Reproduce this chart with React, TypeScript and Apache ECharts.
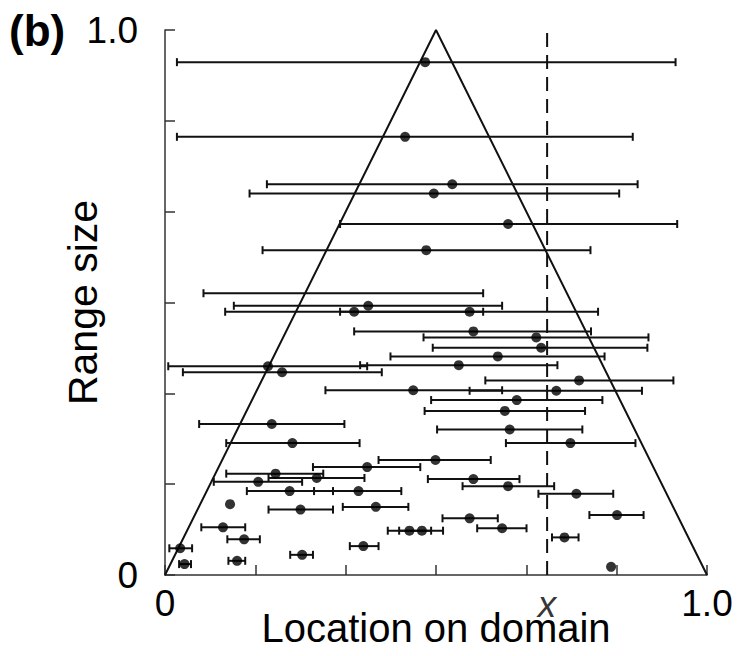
import React, { useEffect, useRef } from "react";
import * as echarts from "echarts";

// Error bars: low end, high end, range size (y)
const barLow = [0.022, 0.022, 0.188, 0.156, 0.323, 0.180, 0.071, 0.127, 0.111, 0.323, 0.349, 0.477, 0.494, 0.416, 0.006, 0.360, 0.033, 0.591, 0.296, 0.562, 0.491, 0.479, 0.063, 0.502, 0.113, 0.629, 0.394, 0.273, 0.113, 0.191, 0.485, 0.090, 0.549, 0.151, 0.275, 0.689, 0.328, 0.191, 0.783, 0.512, 0.067, 0.576, 0.411, 0.432, 0.714, 0.115, 0.341, 0.008, 0.231, 0.117, 0.026];
const barHigh = [0.942, 0.863, 0.872, 0.838, 0.945, 0.785, 0.587, 0.622, 0.587, 0.799, 0.786, 0.892, 0.890, 0.811, 0.373, 0.724, 0.400, 0.938, 0.622, 0.880, 0.807, 0.775, 0.331, 0.770, 0.359, 0.868, 0.601, 0.471, 0.292, 0.368, 0.654, 0.253, 0.718, 0.310, 0.436, 0.827, 0.449, 0.310, 0.883, 0.614, 0.148, 0.667, 0.491, 0.513, 0.763, 0.175, 0.394, 0.050, 0.273, 0.148, 0.048];
const barY = [0.941, 0.804, 0.717, 0.700, 0.644, 0.596, 0.517, 0.494, 0.483, 0.483, 0.447, 0.436, 0.417, 0.401, 0.383, 0.385, 0.372, 0.357, 0.339, 0.338, 0.321, 0.301, 0.277, 0.267, 0.242, 0.242, 0.211, 0.198, 0.186, 0.178, 0.176, 0.171, 0.163, 0.154, 0.154, 0.149, 0.125, 0.120, 0.110, 0.104, 0.0875, 0.0857, 0.0813, 0.0813, 0.069, 0.0655, 0.053, 0.049, 0.037, 0.026, 0.020];

// Points: location, range size
const dotX = [0.480, 0.443, 0.530, 0.496, 0.633, 0.482, 0.375, 0.349, 0.562, 0.569, 0.685, 0.694, 0.614, 0.190, 0.542, 0.216, 0.764, 0.458, 0.722, 0.649, 0.627, 0.197, 0.636, 0.235, 0.748, 0.499, 0.373, 0.204, 0.280, 0.569, 0.172, 0.633, 0.230, 0.357, 0.759, 0.120, 0.389, 0.250, 0.834, 0.562, 0.107, 0.622, 0.451, 0.474, 0.737, 0.146, 0.366, 0.028, 0.253, 0.133, 0.036, 0.823];
const dotY = [0.941, 0.804, 0.717, 0.700, 0.644, 0.596, 0.494, 0.483, 0.483, 0.447, 0.436, 0.417, 0.401, 0.383, 0.385, 0.372, 0.357, 0.339, 0.338, 0.321, 0.301, 0.277, 0.267, 0.242, 0.242, 0.211, 0.198, 0.186, 0.178, 0.176, 0.171, 0.163, 0.154, 0.154, 0.149, 0.130, 0.125, 0.120, 0.110, 0.104, 0.0875, 0.0857, 0.0813, 0.0813, 0.069, 0.0655, 0.053, 0.049, 0.037, 0.026, 0.020, 0.015];

const triangleX = [0, 0.5, 1];
const triangleY = [0, 1, 0];
const xMark = 0.705;

const FONT = "Liberation Sans, Arial, sans-serif";
const INK = "#111";

function tickLabel(v: number) {
  if (Math.abs(v) < 1e-6) return "0";
  if (Math.abs(v - 1) < 1e-6) return "1.0";
  return "";
}

export default function App() {
  const ref = useRef<HTMLDivElement>(null);
  useEffect(() => {
    if (!ref.current) return;
    const chart = echarts.init(ref.current, undefined, { renderer: "svg" });
    const bars = barLow.map((lo, i) => [lo, barHigh[i], barY[i]]);
    const dots = dotX.map((x, i) => [x, dotY[i]]);
    const tri = triangleX.map((x, i) => [x, triangleY[i]]);
    const axisCommon = {
      type: "value",
      min: 0,
      max: 1,
      interval: 1 / 6,
      splitLine: { show: false },
      axisLine: { show: true, lineStyle: { color: "#333", width: 1.5 } },
      axisTick: { show: true, inside: true, length: 10, lineStyle: { color: "#333", width: 1.5 } },
      nameMoveOverlap: false,
    };
    chart.setOption({
      animation: false,
      grid: { left: 165, right: 33, top: 30, bottom: 81, containLabel: false, outerBoundsMode: "none" },
      xAxis: {
        ...axisCommon,
        axisLabel: {
          formatter: tickLabel,
          fontSize: 37,
          fontFamily: FONT,
          color: "#000",
          margin: 10,
          showMinLabel: true,
          showMaxLabel: true,
        },
        name: "Location on domain",
        nameLocation: "middle",
        nameGap: 41,
        nameTextStyle: { fontSize: 40, lineHeight: 24, fontFamily: FONT, color: "#000" },
      },
      yAxis: {
        ...axisCommon,
        axisLabel: {
          formatter: tickLabel,
          fontSize: 37,
          fontFamily: FONT,
          color: "#000",
          margin: 27,
          showMinLabel: true,
          showMaxLabel: true,
        },
        name: "Range size",
        nameLocation: "middle",
        nameGap: 62,
        nameTextStyle: { fontSize: 41, fontFamily: FONT, color: "#000" },
      },
      graphic: [
        {
          type: "text",
          left: 9,
          top: 8,
          style: { text: "(b)", font: `bold 44px ${FONT}`, fill: "#000" },
        },
      ],
      series: [
        {
          type: "line",
          data: tri,
          symbol: "none",
          lineStyle: { color: INK, width: 2 },
          z: 1,
        },
        {
          type: "line",
          data: [[xMark, 0], [xMark, 1]],
          symbol: "none",
          lineStyle: { color: INK, width: 2, type: [14, 8] },
          z: 1,
        },
        {
          type: "scatter",
          data: [[xMark, 0]],
          symbolSize: 1,
          itemStyle: { color: "transparent" },
          label: {
            show: true,
            formatter: "x",
            position: "bottom",
            distance: 19,
            fontSize: 37,
            lineHeight: 20,
            fontStyle: "italic",
            fontFamily: FONT,
            color: "#000",
          },
          z: 1,
        },
        {
          type: "custom",
          data: bars,
          encode: { x: [0, 1], y: 2 },
          renderItem: (params: any, api: any) => {
            const y = api.value(2);
            const lo = api.coord([api.value(0), y]);
            const hi = api.coord([api.value(1), y]);
            const c = 4;
            const style = { stroke: INK, lineWidth: 2, fill: "none" };
            return {
              type: "group",
              children: [
                { type: "line", shape: { x1: lo[0], y1: lo[1], x2: hi[0], y2: hi[1] }, style },
                { type: "line", shape: { x1: lo[0], y1: lo[1] - c, x2: lo[0], y2: lo[1] + c }, style },
                { type: "line", shape: { x1: hi[0], y1: hi[1] - c, x2: hi[0], y2: hi[1] + c }, style },
              ],
            };
          },
          z: 2,
        },
        {
          type: "scatter",
          data: dots,
          symbol: "circle",
          symbolSize: 10,
          itemStyle: { color: "#000" },
          z: 3,
        },
      ],
    });
    return () => chart.dispose();
  }, []);
  return (
    <div
      ref={ref}
      style={{ position: "fixed", left: 0, top: 0, width: 740, height: 656, background: "#fff" }}
    />
  );
}
